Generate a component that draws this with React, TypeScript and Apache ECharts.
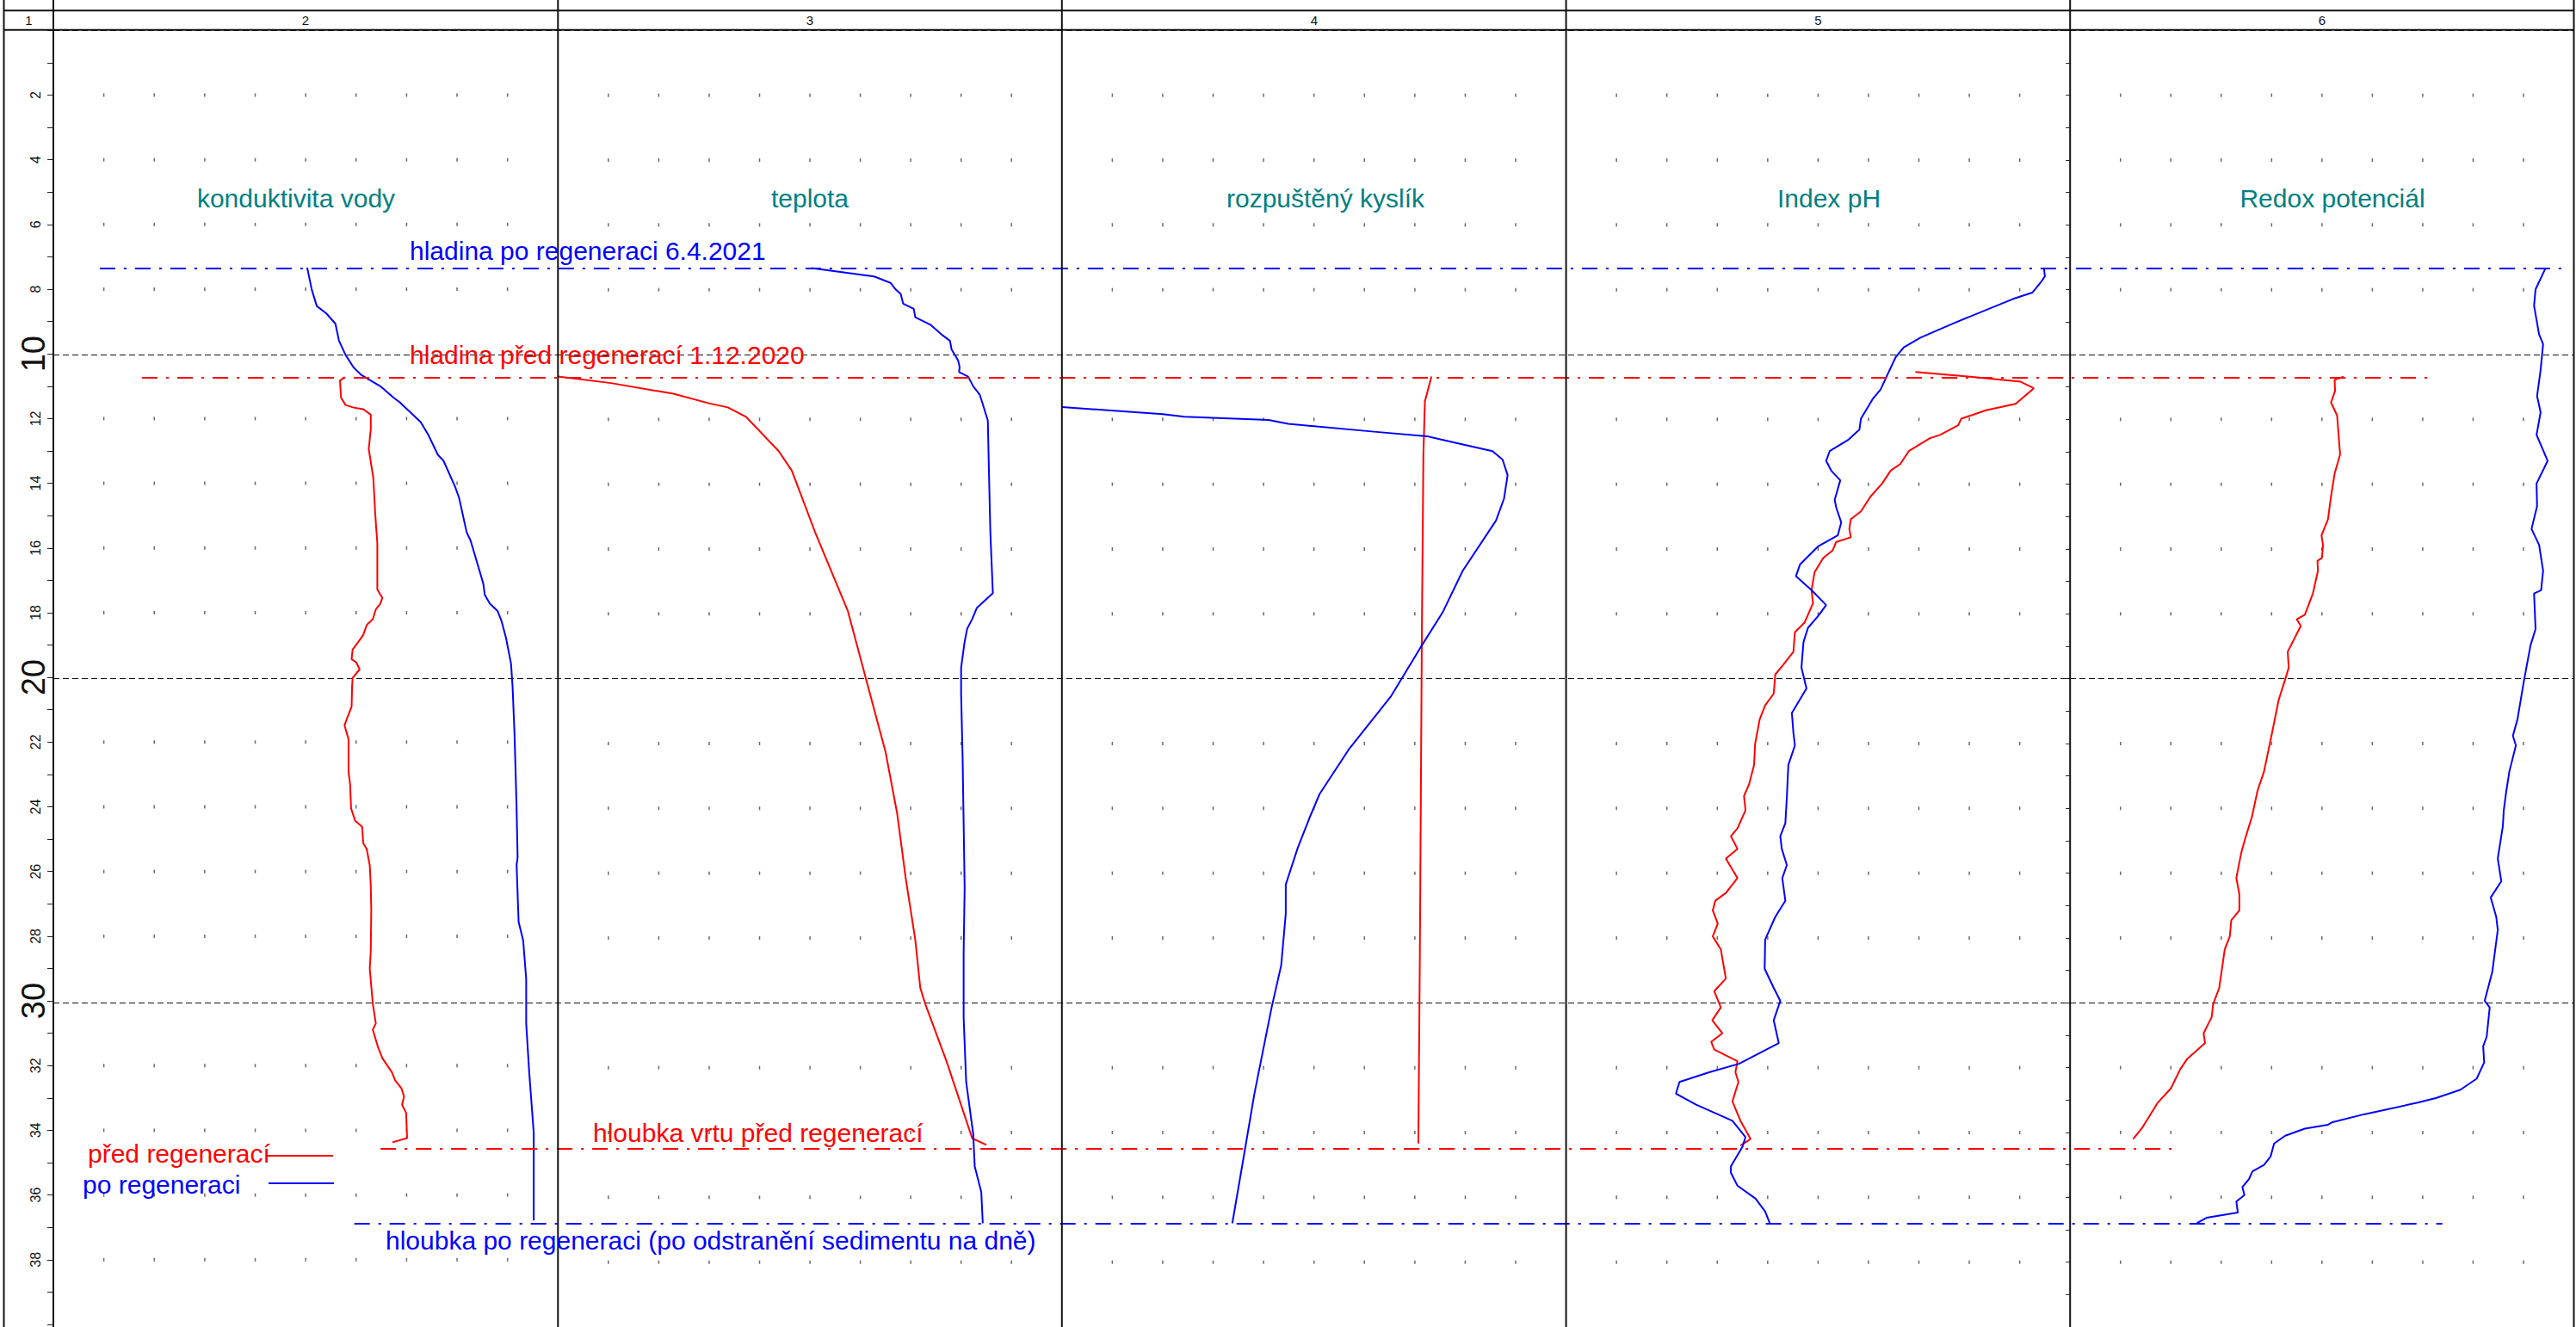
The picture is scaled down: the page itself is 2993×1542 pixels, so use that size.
import React, { useEffect, useRef } from 'react';
import * as echarts from 'echarts';

// ---------------- data (value in panel grid units 0..10, depth in m) ----------------
const headerLabels = ['1', '2', '3', '4', '5', '6'];
const panelTitles = ['konduktivita vody', 'teplota', 'rozpuštěný kyslík', 'Index pH', 'Redox potenciál'];
const seriesNames = ['před regenerací', 'po regeneraci'];

const kondPred = [[5.78,10.72],[5.68,10.82],[5.70,11.35],[5.79,11.58],[5.95,11.66],[6.14,11.71],[6.29,11.88],[6.29,12.33],[6.25,12.94],[6.34,13.83],[6.38,14.98],[6.42,15.86],[6.42,17.28],[6.52,17.54],[6.48,17.72],[6.39,17.9],[6.33,18.2],[6.21,18.38],[6.14,18.69],[6.06,18.87],[5.93,19.14],[5.91,19.44],[6.0,19.53],[6.07,19.75],[5.93,20.02],[5.92,20.28],[5.91,20.91],[5.83,21.22],[5.77,21.48],[5.85,21.92],[5.85,22.92],[5.88,23.3],[5.9,24.05],[5.98,24.43],[6.12,24.62],[6.14,25.12],[6.21,25.31],[6.27,25.81],[6.29,26.44],[6.3,27.19],[6.29,28.44],[6.27,29.0],[6.33,30.08],[6.39,30.7],[6.33,30.89],[6.44,31.46],[6.52,31.77],[6.71,32.21],[6.77,32.45],[6.9,32.71],[6.95,32.96],[6.91,33.21],[6.99,33.46],[7.01,34.24],[6.72,34.37]];
const kondPo = [[5.03,7.33],[5.12,8.01],[5.22,8.52],[5.41,8.75],[5.59,9.07],[5.66,9.59],[5.79,10.03],[5.95,10.42],[6.10,10.65],[6.48,11.0],[6.74,11.35],[6.86,11.49],[7.28,12.11],[7.43,12.5],[7.62,13.12],[7.73,13.3],[7.96,14.1],[8.04,14.45],[8.19,15.51],[8.27,15.78],[8.42,16.57],[8.52,17.1],[8.55,17.45],[8.65,17.72],[8.8,17.94],[8.88,18.25],[8.97,18.78],[9.07,19.58],[9.1,20.28],[9.14,21.79],[9.18,24.05],[9.2,25.56],[9.18,25.8],[9.22,27.56],[9.31,28.13],[9.37,29.32],[9.37,30.7],[9.43,32.21],[9.49,33.46],[9.52,34.09],[9.52,36.79]];

const teplPred = [[0.0,10.68],[1.05,10.88],[2.29,11.21],[3.01,11.51],[3.37,11.63],[3.73,11.92],[4.38,12.98],[4.64,13.58],[5.1,15.47],[5.75,17.9],[6.5,22.26],[6.73,24.15],[6.9,26.15],[7.09,28.05],[7.19,29.54],[7.29,30.04],[7.71,31.8],[8.22,34.18],[8.5,34.38]];
const teplPo = [[5.03,7.33],[6.27,7.59],[6.6,7.79],[6.7,7.99],[6.8,8.13],[6.85,8.43],[7.06,8.59],[7.09,8.85],[7.39,9.08],[7.61,9.38],[7.78,9.58],[7.81,9.84],[7.94,10.18],[7.97,10.38],[7.96,10.54],[8.14,10.68],[8.24,10.98],[8.37,11.24],[8.44,11.58],[8.53,12.04],[8.55,13.47],[8.58,15.47],[8.63,17.36],[8.31,17.82],[8.22,18.16],[8.12,18.46],[8.07,18.86],[8.0,19.66],[8.0,20.46],[8.03,22.46],[8.05,24.46],[8.07,26.45],[8.05,28.45],[8.05,30.45],[8.1,32.44],[8.24,34.04],[8.27,35.04],[8.4,35.84],[8.43,36.8]];

const kyslikPred = [[7.33,10.68],[7.2,11.44],[7.17,13.08],[7.14,18.47],[7.1,28.45],[7.07,34.34]];
const kyslikPo = [[0.0,11.62],[2.0,11.84],[2.43,11.92],[4.1,12.02],[4.49,12.14],[6.19,12.38],[7.24,12.52],[7.69,12.68],[8.54,12.98],[8.74,13.24],[8.84,13.72],[8.77,14.44],[8.61,15.12],[7.95,16.67],[7.56,17.93],[7.14,18.97],[6.52,20.56],[5.7,22.16],[5.11,23.56],[4.92,24.26],[4.68,25.21],[4.44,26.35],[4.44,27.25],[4.35,28.84],[4.16,30.14],[3.82,32.79],[3.63,34.53],[3.38,36.8]];

const phPred = [[6.93,10.54],[7.97,10.68],[9.02,10.84],[9.28,11.04],[8.92,11.52],[8.33,11.72],[7.84,11.98],[7.78,12.18],[7.42,12.48],[7.22,12.58],[6.8,12.98],[6.63,13.38],[6.44,13.58],[6.27,13.98],[6.04,14.38],[5.85,14.84],[5.65,15.08],[5.62,15.38],[5.65,15.64],[5.36,15.78],[5.29,16.04],[5.1,16.28],[4.93,16.72],[4.87,17.27],[4.9,17.67],[4.8,18.03],[4.73,18.27],[4.54,18.57],[4.51,19.17],[4.31,19.57],[4.15,19.87],[4.12,20.46],[3.95,20.82],[3.84,21.26],[3.75,22.02],[3.73,22.66],[3.63,23.26],[3.53,23.62],[3.56,24.06],[3.4,24.62],[3.27,24.86],[3.4,25.25],[3.17,25.55],[3.4,26.15],[3.17,26.61],[2.96,26.85],[2.91,27.15],[3.01,27.55],[2.91,27.95],[3.07,28.35],[3.17,29.25],[2.94,29.64],[3.07,30.14],[2.9,30.54],[3.1,30.94],[2.88,31.2],[2.94,31.44],[3.4,31.8],[3.36,32.14],[3.42,32.44],[3.3,33.04],[3.46,33.64],[3.66,34.2],[3.46,34.4]];
const phPo = [[9.48,7.33],[9.5,7.59],[9.41,7.79],[9.25,8.09],[8.86,8.29],[7.68,9.04],[7.03,9.48],[6.7,9.78],[6.54,10.08],[6.37,10.64],[6.24,11.08],[6.08,11.38],[5.85,11.98],[5.82,12.32],[5.59,12.64],[5.23,12.98],[5.16,13.28],[5.26,13.58],[5.44,13.88],[5.33,14.48],[5.36,14.72],[5.46,15.18],[5.39,15.58],[5.0,15.92],[4.64,16.48],[4.56,16.84],[4.87,17.27],[5.16,17.73],[5.0,18.07],[4.8,18.43],[4.71,18.87],[4.67,19.66],[4.77,20.3],[4.48,21.06],[4.51,21.66],[4.54,22.06],[4.41,22.66],[4.38,23.66],[4.35,24.46],[4.25,24.86],[4.28,25.25],[4.38,25.75],[4.29,26.15],[4.35,26.85],[4.15,27.35],[3.95,28.05],[3.94,28.95],[4.12,29.54],[4.25,29.94],[4.12,30.54],[4.22,31.24],[3.43,31.88],[2.84,32.14],[2.25,32.44],[2.18,32.8],[2.58,33.14],[3.3,33.64],[3.56,34.14],[3.5,34.44],[3.27,35.04],[3.27,35.24],[3.4,35.64],[3.76,36.04],[3.95,36.44],[4.04,36.79]];

const redoxPred = [[5.43,10.68],[5.25,10.78],[5.26,11.12],[5.18,11.48],[5.3,11.88],[5.36,13.08],[5.25,13.68],[5.17,14.48],[5.12,15.08],[4.99,15.58],[5.02,15.87],[5.0,16.27],[4.91,16.37],[4.92,16.67],[4.82,17.37],[4.66,18.03],[4.5,18.17],[4.58,18.37],[4.32,19.17],[4.34,19.66],[4.27,20.02],[4.14,20.66],[4.01,21.66],[3.85,22.86],[3.72,23.46],[3.61,24.26],[3.49,24.86],[3.4,25.35],[3.3,26.15],[3.36,26.65],[3.36,27.15],[3.2,27.45],[3.17,27.95],[3.07,28.35],[2.96,29.54],[2.84,30.04],[2.81,30.44],[2.65,30.94],[2.68,31.24],[2.32,31.74],[2.19,32.04],[2.0,32.64],[1.74,33.08],[1.58,33.48],[1.42,33.88],[1.25,34.2]];
const redoxPo = [[9.44,7.33],[9.24,7.99],[9.21,8.49],[9.31,9.38],[9.39,9.68],[9.34,10.48],[9.27,11.28],[9.34,11.78],[9.26,12.48],[9.37,12.88],[9.48,13.28],[9.26,13.98],[9.27,14.68],[9.16,15.38],[9.31,15.87],[9.39,16.67],[9.35,17.27],[9.21,17.37],[9.24,18.47],[9.14,18.97],[9.01,20.06],[8.88,21.26],[8.79,21.76],[8.85,22.06],[8.72,22.86],[8.66,23.46],[8.61,24.05],[8.59,24.55],[8.49,25.55],[8.56,26.25],[8.35,26.75],[8.46,27.35],[8.49,27.75],[8.38,29.05],[8.23,29.94],[8.33,30.14],[8.27,31.04],[8.2,31.34],[8.22,31.84],[8.07,32.34],[7.75,32.68],[7.26,32.94],[6.9,33.08],[5.83,33.44],[5.21,33.68],[5.12,33.76],[4.66,33.88],[4.27,34.1],[4.05,34.34],[3.98,34.74],[3.85,35.0],[3.62,35.2],[3.55,35.44],[3.42,35.68],[3.46,35.93],[3.3,36.13],[3.33,36.47],[2.71,36.63],[2.52,36.79]];

const panelData = [
  [kondPred, kondPo],
  [teplPred, teplPo],
  [kyslikPred, kyslikPo],
  [phPred, phPo],
  [redoxPred, redoxPo],
];

// reference levels: depth, start/end (in 0..50 units across the five panels)
const refLabels = [
  'hladina po regeneraci 6.4.2021',
  'hladina před regenerací 1.12.2020',
  'hloubka vrtu před regenerací',
  'hloubka po regeneraci (po odstranění sedimentu na dně)',
];
const refDepths = [7.33, 10.7, 34.5, 36.8];
const refStarts = [0.92, 1.76, 6.49, 5.97];
const refEnds = [49.78, 47.22, 42.18, 47.39];
const refColors = ['#0000ff', '#ff0000', '#ff0000', '#0000ff'];

const dotColumns = [1, 2, 3, 4, 5, 6, 7, 8, 9];
const dotRows = [2, 4, 6, 8, 12, 14, 16, 18, 22, 24, 26, 28, 32, 34, 36, 38];

// ---------------- layout ----------------
const W = 2993;
const H = 1542;
const FONT = '"Liberation Sans", Arial, sans-serif';
const RED = '#ff0000';
const BLUE = '#0000ff';
const TEAL = '#008080';
const FRAME = '#111111';
const PANEL_X = [62, 648.3, 1233.8, 1819.6, 2405.2, 2990.5];
const GRID_TOP = 35.3;
const GRID_H = 40 * 37.79;
const HEADER_X = [33.3, 355, 941, 1527, 2112.5, 2698];
const TITLE_X = [344, 941, 1540, 2125, 2710];

export default function App() {
  const ref = useRef<HTMLDivElement>(null);

  useEffect(() => {
    if (!ref.current) return;
    const chart = echarts.init(ref.current, null, { renderer: 'svg' });

    const grids: any[] = [];
    const xAxes: any[] = [];
    const yAxes: any[] = [];
    const series: any[] = [];

    for (let i = 0; i < 5; i++) {
      grids.push({ left: PANEL_X[i], top: GRID_TOP, width: PANEL_X[i + 1] - PANEL_X[i], height: GRID_H });
      xAxes.push({ type: 'value', gridIndex: i, min: 0, max: 10, show: false });
    }
    // overlay grid across all panels
    grids.push({ left: PANEL_X[0], top: GRID_TOP, width: PANEL_X[5] - PANEL_X[0], height: GRID_H });
    xAxes.push({ type: 'value', gridIndex: 5, min: 0, max: 50, show: false });

    for (let i = 0; i < 5; i++) {
      const base: any = {
        type: 'value', gridIndex: i, min: 0, max: 40, inverse: true,
        axisLine: { show: false }, splitLine: { show: false },
        axisTick: { show: false }, axisLabel: { show: false },
      };
      if (i === 0) {
        base.position = 'left';
        base.interval = 1;
        base.axisTick = { show: true, length: 7, inside: false, lineStyle: { color: '#222', width: 1 } };
        base.axisLabel = {
          show: true, rotate: 90, fontSize: 16, fontFamily: FONT, color: '#111', margin: 13,
          formatter: (v: number) => (v > 0 && v < 40 && v % 2 === 0 && v % 10 !== 0 ? String(v) : ''),
        };
      }
      if (i === 4) {
        base.position = 'right';
        base.interval = 1;
        base.axisTick = { show: true, length: 5, inside: true, lineStyle: { color: '#222', width: 1 } };
      }
      yAxes.push(base);
    }
    // big depth labels 10/20/30
    yAxes.push({
      type: 'value', gridIndex: 0, min: 0, max: 40, inverse: true, position: 'left', interval: 10,
      axisLine: { show: false }, axisTick: { show: false }, splitLine: { show: false },
      axisLabel: {
        show: true, rotate: 90, fontSize: 38, fontFamily: FONT, color: '#111', margin: 4,
        formatter: (v: number) => (v > 0 && v < 40 ? String(v) : ''),
      },
    });
    // overlay y axis for dashed depth lines
    yAxes.push({
      type: 'value', gridIndex: 5, min: 0, max: 40, inverse: true, interval: 10,
      axisLine: { show: false }, axisTick: { show: false }, axisLabel: { show: false },
      splitLine: { show: true, lineStyle: { type: [7, 4], color: '#111', width: 1 } },
    });

    const dots: number[][] = [];
    dotColumns.forEach((c) => dotRows.forEach((r) => dots.push([c, r])));

    for (let i = 0; i < 5; i++) {
      series.push({
        type: 'scatter', xAxisIndex: i, yAxisIndex: i, data: dots, silent: true,
        symbol: 'rect', symbolSize: [1.5, 4], itemStyle: { color: '#444' }, z: 1,
      });
      const [pred, po] = panelData[i];
      series.push({
        name: seriesNames[0], type: 'line', xAxisIndex: i, yAxisIndex: i, data: pred,
        showSymbol: false, symbol: 'none', lineStyle: { color: RED, width: 2 }, itemStyle: { color: RED }, z: 3,
      });
      series.push({
        name: seriesNames[1], type: 'line', xAxisIndex: i, yAxisIndex: i, data: po,
        showSymbol: false, symbol: 'none', lineStyle: { color: BLUE, width: 2 }, itemStyle: { color: BLUE }, z: 3,
      });
    }

    series.push({
      type: 'line', xAxisIndex: 5, yAxisIndex: 6, data: [], silent: true, z: 4,
      markLine: {
        silent: true, symbol: ['none', 'none'], label: { show: false },
        lineStyle: { type: [18, 10, 3, 10], width: 2 },
        data: refDepths.map((d, k) => [
          { coord: [refStarts[k], d], lineStyle: { color: refColors[k], type: [18, 10, 3, 10], width: 2 } },
          { coord: [refEnds[k], d] },
        ]),
      },
    });

    const graphic: any[] = [];
    // frame
    [4.5, ...PANEL_X].forEach((x) => {
      graphic.push({ type: 'line', silent: true, z: 10, shape: { x1: x, y1: 0, x2: x, y2: H }, style: { stroke: FRAME, lineWidth: 2 } });
    });
    [12.3, 34.7].forEach((y) => {
      graphic.push({ type: 'line', silent: true, z: 10, shape: { x1: 4.5, y1: y, x2: PANEL_X[5], y2: y }, style: { stroke: FRAME, lineWidth: 2 } });
    });
    headerLabels.forEach((t, k) => {
      graphic.push({
        type: 'text', x: HEADER_X[k], y: 23.5, z: 10, silent: true,
        style: { text: t, fill: '#111', font: `15px ${FONT}`, align: 'center', verticalAlign: 'middle', textAlign: 'center', textVerticalAlign: 'middle' },
      });
    });
    panelTitles.forEach((t, k) => {
      graphic.push({
        type: 'text', x: TITLE_X[k], y: 230.6, z: 10, silent: true,
        style: { text: t, fill: TEAL, font: `30px ${FONT}`, align: 'center', verticalAlign: 'middle', textAlign: 'center', textVerticalAlign: 'middle' },
      });
    });
    const refTextPos = [[476, 291.3], [476, 412.6], [689, 1316.6], [448, 1441.6]];
    refLabels.forEach((t, k) => {
      graphic.push({
        type: 'text', x: refTextPos[k][0], y: refTextPos[k][1], z: 10, silent: true,
        style: { text: t, fill: refColors[k], font: `30px ${FONT}`, align: 'left', verticalAlign: 'middle', textAlign: 'left', textVerticalAlign: 'middle' },
      });
    });
    // legend
    graphic.push({ type: 'text', x: 102, y: 1340.6, z: 10, silent: true,
      style: { text: seriesNames[0], fill: RED, font: `30px ${FONT}`, align: 'left', verticalAlign: 'middle', textAlign: 'left', textVerticalAlign: 'middle' } });
    graphic.push({ type: 'line', z: 10, silent: true, shape: { x1: 310, y1: 1343, x2: 387, y2: 1343 }, style: { stroke: RED, lineWidth: 2 } });
    graphic.push({ type: 'text', x: 96, y: 1376.6, z: 10, silent: true,
      style: { text: seriesNames[1], fill: BLUE, font: `30px ${FONT}`, align: 'left', verticalAlign: 'middle', textAlign: 'left', textVerticalAlign: 'middle' } });
    graphic.push({ type: 'line', z: 10, silent: true, shape: { x1: 312, y1: 1375, x2: 388, y2: 1375 }, style: { stroke: BLUE, lineWidth: 2 } });

    chart.setOption({
      animation: false,
      backgroundColor: '#ffffff',
      textStyle: { fontFamily: FONT },
      grid: grids,
      xAxis: xAxes,
      yAxis: yAxes,
      series,
      graphic,
    });

    return () => chart.dispose();
  }, []);

  return <div ref={ref} style={{ position: 'absolute', left: 0, top: 0, width: W, height: H }} />;
}
